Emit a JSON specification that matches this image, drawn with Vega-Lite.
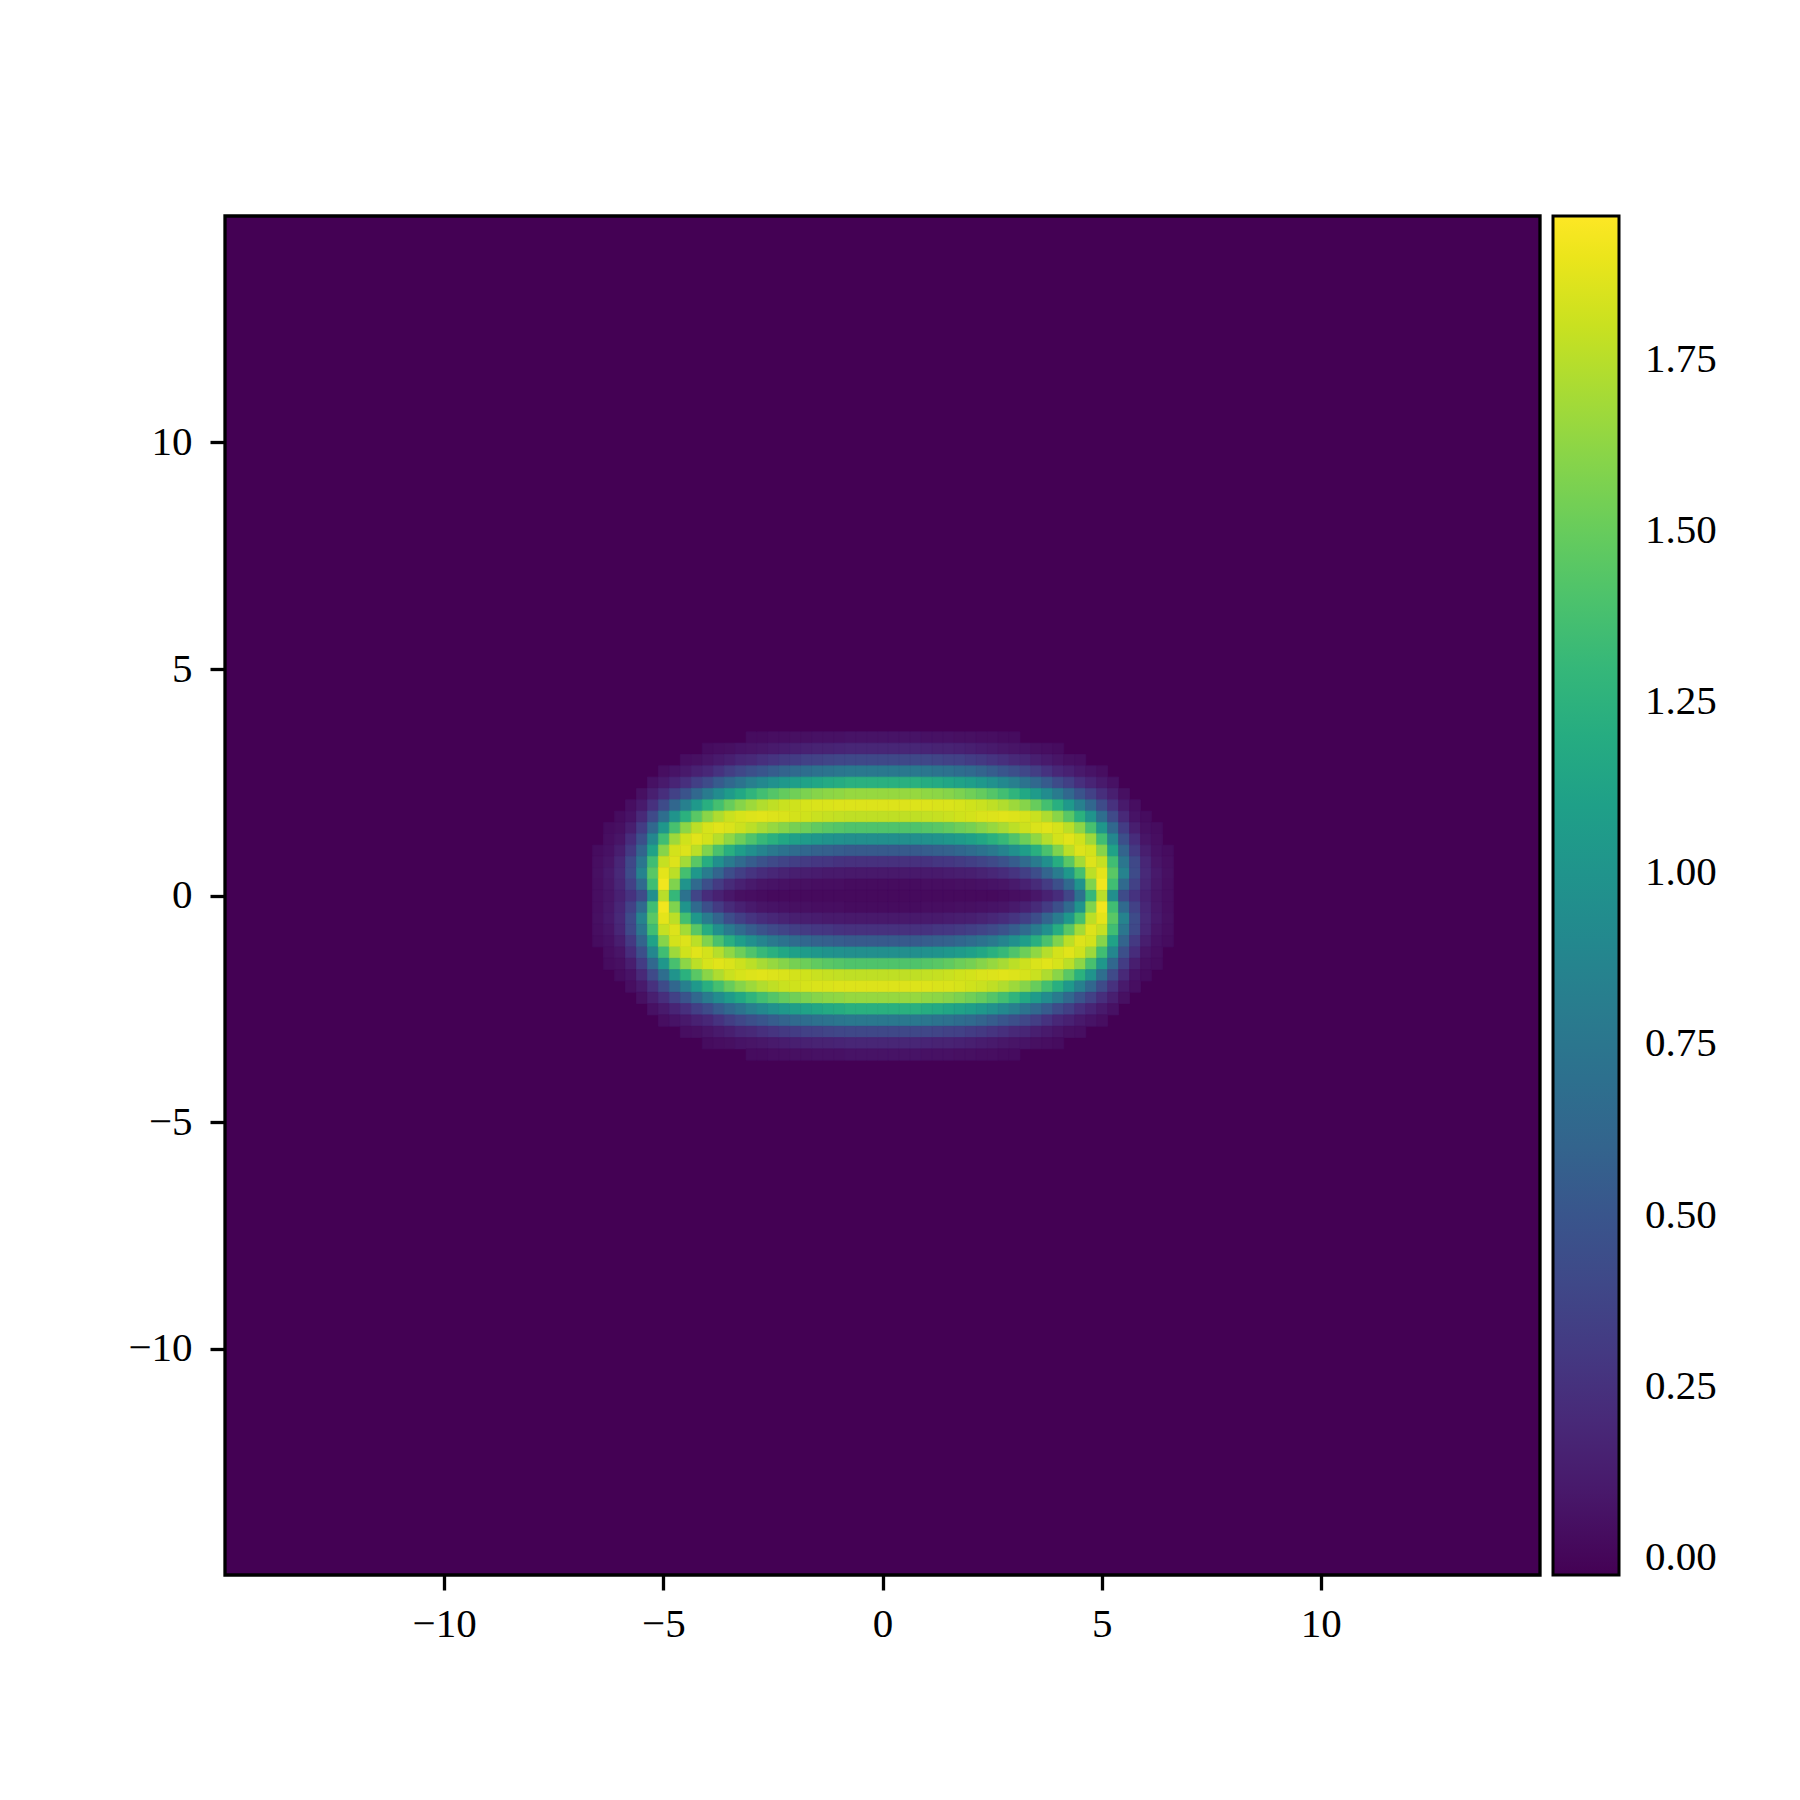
{"$schema":"https://vega.github.io/schema/vega-lite/v6.json","width":1315,"height":1359,"autosize":"none","padding":{"left":225,"top":216,"right":260,"bottom":225},"background":"white",
"config":{"view":{"fill":"#440154","stroke":"black","strokeWidth":3.3},"axis":{"domain":false,"grid":false,"ticks":true,"tickColor":"black","tickWidth":3.3,"tickSize":15,"labelFont":"Liberation Serif","labelFontSize":41,"labelColor":"black"}},
"data":{"values":[
{"x":-6.5,"y":1,"v":0.03},{"x":-6.5,"y":0.75,"v":0.04},{"x":-6.5,"y":0.5,"v":0.05},{"x":-6.5,"y":0.25,"v":0.04},{"x":-6.5,"y":0,"v":0.04},{"x":-6.5,"y":-0.25,"v":0.04},{"x":-6.5,"y":-0.5,"v":0.05},{"x":-6.5,"y":-0.75,"v":0.04},{"x":-6.5,"y":-1,"v":0.03},
{"x":-6.25,"y":1.5,"v":0.03},{"x":-6.25,"y":1.25,"v":0.04},{"x":-6.25,"y":1,"v":0.06},{"x":-6.25,"y":0.75,"v":0.08},{"x":-6.25,"y":0.5,"v":0.1},{"x":-6.25,"y":0.25,"v":0.09},{"x":-6.25,"y":0,"v":0.08},{"x":-6.25,"y":-0.25,"v":0.09},{"x":-6.25,"y":-0.5,"v":0.1},{"x":-6.25,"y":-0.75,"v":0.08},{"x":-6.25,"y":-1,"v":0.06},{"x":-6.25,"y":-1.25,"v":0.04},{"x":-6.25,"y":-1.5,"v":0.03},
{"x":-6,"y":1.75,"v":0.03},{"x":-6,"y":1.5,"v":0.05},{"x":-6,"y":1.25,"v":0.08},{"x":-6,"y":1,"v":0.13},{"x":-6,"y":0.75,"v":0.18},{"x":-6,"y":0.5,"v":0.2},{"x":-6,"y":0.25,"v":0.18},{"x":-6,"y":0,"v":0.15},{"x":-6,"y":-0.25,"v":0.18},{"x":-6,"y":-0.5,"v":0.2},{"x":-6,"y":-0.75,"v":0.18},{"x":-6,"y":-1,"v":0.13},{"x":-6,"y":-1.25,"v":0.08},{"x":-6,"y":-1.5,"v":0.05},{"x":-6,"y":-1.75,"v":0.03},
{"x":-5.75,"y":2,"v":0.04},{"x":-5.75,"y":1.75,"v":0.07},{"x":-5.75,"y":1.5,"v":0.13},{"x":-5.75,"y":1.25,"v":0.22},{"x":-5.75,"y":1,"v":0.3},{"x":-5.75,"y":0.75,"v":0.4},{"x":-5.75,"y":0.5,"v":0.42},{"x":-5.75,"y":0.25,"v":0.35},{"x":-5.75,"y":0,"v":0.26},{"x":-5.75,"y":-0.25,"v":0.35},{"x":-5.75,"y":-0.5,"v":0.42},{"x":-5.75,"y":-0.75,"v":0.4},{"x":-5.75,"y":-1,"v":0.3},{"x":-5.75,"y":-1.25,"v":0.22},{"x":-5.75,"y":-1.5,"v":0.13},{"x":-5.75,"y":-1.75,"v":0.07},{"x":-5.75,"y":-2,"v":0.04},
{"x":-5.5,"y":2.25,"v":0.05},{"x":-5.5,"y":2,"v":0.11},{"x":-5.5,"y":1.75,"v":0.2},{"x":-5.5,"y":1.5,"v":0.32},{"x":-5.5,"y":1.25,"v":0.45},{"x":-5.5,"y":1,"v":0.6},{"x":-5.5,"y":0.75,"v":0.75},{"x":-5.5,"y":0.5,"v":0.85},{"x":-5.5,"y":0.25,"v":0.65},{"x":-5.5,"y":0,"v":0.42},{"x":-5.5,"y":-0.25,"v":0.65},{"x":-5.5,"y":-0.5,"v":0.85},{"x":-5.5,"y":-0.75,"v":0.75},{"x":-5.5,"y":-1,"v":0.6},{"x":-5.5,"y":-1.25,"v":0.45},{"x":-5.5,"y":-1.5,"v":0.32},{"x":-5.5,"y":-1.75,"v":0.2},{"x":-5.5,"y":-2,"v":0.11},{"x":-5.5,"y":-2.25,"v":0.05},
{"x":-5.25,"y":2.5,"v":0.06},{"x":-5.25,"y":2.25,"v":0.14},{"x":-5.25,"y":2,"v":0.25},{"x":-5.25,"y":1.75,"v":0.41},{"x":-5.25,"y":1.5,"v":0.64},{"x":-5.25,"y":1.25,"v":0.89},{"x":-5.25,"y":1,"v":1.12},{"x":-5.25,"y":0.75,"v":1.35},{"x":-5.25,"y":0.5,"v":1.45},{"x":-5.25,"y":0.25,"v":1.35},{"x":-5.25,"y":0,"v":0.95},{"x":-5.25,"y":-0.25,"v":1.35},{"x":-5.25,"y":-0.5,"v":1.45},{"x":-5.25,"y":-0.75,"v":1.35},{"x":-5.25,"y":-1,"v":1.12},{"x":-5.25,"y":-1.25,"v":0.89},{"x":-5.25,"y":-1.5,"v":0.64},{"x":-5.25,"y":-1.75,"v":0.41},{"x":-5.25,"y":-2,"v":0.25},{"x":-5.25,"y":-2.25,"v":0.14},{"x":-5.25,"y":-2.5,"v":0.06},
{"x":-5,"y":2.75,"v":0.04},{"x":-5,"y":2.5,"v":0.11},{"x":-5,"y":2.25,"v":0.23},{"x":-5,"y":2,"v":0.42},{"x":-5,"y":1.75,"v":0.69},{"x":-5,"y":1.5,"v":1.02},{"x":-5,"y":1.25,"v":1.35},{"x":-5,"y":1,"v":1.6},{"x":-5,"y":0.75,"v":1.79},{"x":-5,"y":0.5,"v":1.88},{"x":-5,"y":0.25,"v":1.92},{"x":-5,"y":0,"v":1.75},{"x":-5,"y":-0.25,"v":1.92},{"x":-5,"y":-0.5,"v":1.88},{"x":-5,"y":-0.75,"v":1.79},{"x":-5,"y":-1,"v":1.6},{"x":-5,"y":-1.25,"v":1.35},{"x":-5,"y":-1.5,"v":1.02},{"x":-5,"y":-1.75,"v":0.69},{"x":-5,"y":-2,"v":0.42},{"x":-5,"y":-2.25,"v":0.23},{"x":-5,"y":-2.5,"v":0.11},{"x":-5,"y":-2.75,"v":0.04},
{"x":-4.75,"y":2.75,"v":0.07},{"x":-4.75,"y":2.5,"v":0.17},{"x":-4.75,"y":2.25,"v":0.35},{"x":-4.75,"y":2,"v":0.63},{"x":-4.75,"y":1.75,"v":1},{"x":-4.75,"y":1.5,"v":1.38},{"x":-4.75,"y":1.25,"v":1.67},{"x":-4.75,"y":1,"v":1.83},{"x":-4.75,"y":0.75,"v":1.86},{"x":-4.75,"y":0.5,"v":1.76},{"x":-4.75,"y":0.25,"v":1.58},{"x":-4.75,"y":0,"v":1.3},{"x":-4.75,"y":-0.25,"v":1.58},{"x":-4.75,"y":-0.5,"v":1.76},{"x":-4.75,"y":-0.75,"v":1.86},{"x":-4.75,"y":-1,"v":1.83},{"x":-4.75,"y":-1.25,"v":1.67},{"x":-4.75,"y":-1.5,"v":1.38},{"x":-4.75,"y":-1.75,"v":1},{"x":-4.75,"y":-2,"v":0.63},{"x":-4.75,"y":-2.25,"v":0.35},{"x":-4.75,"y":-2.5,"v":0.17},{"x":-4.75,"y":-2.75,"v":0.07},
{"x":-4.5,"y":3,"v":0.04},{"x":-4.5,"y":2.75,"v":0.1},{"x":-4.5,"y":2.5,"v":0.24},{"x":-4.5,"y":2.25,"v":0.48},{"x":-4.5,"y":2,"v":0.83},{"x":-4.5,"y":1.75,"v":1.24},{"x":-4.5,"y":1.5,"v":1.62},{"x":-4.5,"y":1.25,"v":1.82},{"x":-4.5,"y":1,"v":1.86},{"x":-4.5,"y":0.75,"v":1.69},{"x":-4.5,"y":0.5,"v":1.37},{"x":-4.5,"y":0.25,"v":1},{"x":-4.5,"y":0,"v":0.72},{"x":-4.5,"y":-0.25,"v":1},{"x":-4.5,"y":-0.5,"v":1.37},{"x":-4.5,"y":-0.75,"v":1.69},{"x":-4.5,"y":-1,"v":1.86},{"x":-4.5,"y":-1.25,"v":1.82},{"x":-4.5,"y":-1.5,"v":1.62},{"x":-4.5,"y":-1.75,"v":1.24},{"x":-4.5,"y":-2,"v":0.83},{"x":-4.5,"y":-2.25,"v":0.48},{"x":-4.5,"y":-2.5,"v":0.24},{"x":-4.5,"y":-2.75,"v":0.1},{"x":-4.5,"y":-3,"v":0.04},
{"x":-4.25,"y":3,"v":0.05},{"x":-4.25,"y":2.75,"v":0.15},{"x":-4.25,"y":2.5,"v":0.34},{"x":-4.25,"y":2.25,"v":0.64},{"x":-4.25,"y":2,"v":1.04},{"x":-4.25,"y":1.75,"v":1.45},{"x":-4.25,"y":1.5,"v":1.76},{"x":-4.25,"y":1.25,"v":1.87},{"x":-4.25,"y":1,"v":1.76},{"x":-4.25,"y":0.75,"v":1.45},{"x":-4.25,"y":0.5,"v":1.03},{"x":-4.25,"y":0.25,"v":0.65},{"x":-4.25,"y":0,"v":0.38},{"x":-4.25,"y":-0.25,"v":0.65},{"x":-4.25,"y":-0.5,"v":1.03},{"x":-4.25,"y":-0.75,"v":1.45},{"x":-4.25,"y":-1,"v":1.76},{"x":-4.25,"y":-1.25,"v":1.87},{"x":-4.25,"y":-1.5,"v":1.76},{"x":-4.25,"y":-1.75,"v":1.45},{"x":-4.25,"y":-2,"v":1.04},{"x":-4.25,"y":-2.25,"v":0.64},{"x":-4.25,"y":-2.5,"v":0.34},{"x":-4.25,"y":-2.75,"v":0.15},{"x":-4.25,"y":-3,"v":0.05},
{"x":-4,"y":3.25,"v":0.03},{"x":-4,"y":3,"v":0.08},{"x":-4,"y":2.75,"v":0.19},{"x":-4,"y":2.5,"v":0.42},{"x":-4,"y":2.25,"v":0.79},{"x":-4,"y":2,"v":1.22},{"x":-4,"y":1.75,"v":1.61},{"x":-4,"y":1.5,"v":1.84},{"x":-4,"y":1.25,"v":1.83},{"x":-4,"y":1,"v":1.58},{"x":-4,"y":0.75,"v":1.21},{"x":-4,"y":0.5,"v":0.8},{"x":-4,"y":0.25,"v":0.45},{"x":-4,"y":0,"v":0.22},{"x":-4,"y":-0.25,"v":0.45},{"x":-4,"y":-0.5,"v":0.8},{"x":-4,"y":-0.75,"v":1.21},{"x":-4,"y":-1,"v":1.58},{"x":-4,"y":-1.25,"v":1.83},{"x":-4,"y":-1.5,"v":1.84},{"x":-4,"y":-1.75,"v":1.61},{"x":-4,"y":-2,"v":1.22},{"x":-4,"y":-2.25,"v":0.79},{"x":-4,"y":-2.5,"v":0.42},{"x":-4,"y":-2.75,"v":0.19},{"x":-4,"y":-3,"v":0.08},{"x":-4,"y":-3.25,"v":0.03},
{"x":-3.75,"y":3.25,"v":0.04},{"x":-3.75,"y":3,"v":0.11},{"x":-3.75,"y":2.75,"v":0.26},{"x":-3.75,"y":2.5,"v":0.54},{"x":-3.75,"y":2.25,"v":0.93},{"x":-3.75,"y":2,"v":1.37},{"x":-3.75,"y":1.75,"v":1.72},{"x":-3.75,"y":1.5,"v":1.87},{"x":-3.75,"y":1.25,"v":1.74},{"x":-3.75,"y":1,"v":1.39},{"x":-3.75,"y":0.75,"v":0.96},{"x":-3.75,"y":0.5,"v":0.61},{"x":-3.75,"y":0.25,"v":0.31},{"x":-3.75,"y":0,"v":0.15},{"x":-3.75,"y":-0.25,"v":0.31},{"x":-3.75,"y":-0.5,"v":0.61},{"x":-3.75,"y":-0.75,"v":0.96},{"x":-3.75,"y":-1,"v":1.39},{"x":-3.75,"y":-1.25,"v":1.74},{"x":-3.75,"y":-1.5,"v":1.87},{"x":-3.75,"y":-1.75,"v":1.72},{"x":-3.75,"y":-2,"v":1.37},{"x":-3.75,"y":-2.25,"v":0.93},{"x":-3.75,"y":-2.5,"v":0.54},{"x":-3.75,"y":-2.75,"v":0.26},{"x":-3.75,"y":-3,"v":0.11},{"x":-3.75,"y":-3.25,"v":0.04},
{"x":-3.5,"y":3.25,"v":0.05},{"x":-3.5,"y":3,"v":0.14},{"x":-3.5,"y":2.75,"v":0.33},{"x":-3.5,"y":2.5,"v":0.64},{"x":-3.5,"y":2.25,"v":1.06},{"x":-3.5,"y":2,"v":1.5},{"x":-3.5,"y":1.75,"v":1.8},{"x":-3.5,"y":1.5,"v":1.85},{"x":-3.5,"y":1.25,"v":1.63},{"x":-3.5,"y":1,"v":1.22},{"x":-3.5,"y":0.75,"v":0.79},{"x":-3.5,"y":0.5,"v":0.43},{"x":-3.5,"y":0.25,"v":0.21},{"x":-3.5,"y":0,"v":0.09},{"x":-3.5,"y":-0.25,"v":0.21},{"x":-3.5,"y":-0.5,"v":0.43},{"x":-3.5,"y":-0.75,"v":0.79},{"x":-3.5,"y":-1,"v":1.22},{"x":-3.5,"y":-1.25,"v":1.63},{"x":-3.5,"y":-1.5,"v":1.85},{"x":-3.5,"y":-1.75,"v":1.8},{"x":-3.5,"y":-2,"v":1.5},{"x":-3.5,"y":-2.25,"v":1.06},{"x":-3.5,"y":-2.5,"v":0.64},{"x":-3.5,"y":-2.75,"v":0.33},{"x":-3.5,"y":-3,"v":0.14},{"x":-3.5,"y":-3.25,"v":0.05},
{"x":-3.25,"y":3.25,"v":0.07},{"x":-3.25,"y":3,"v":0.18},{"x":-3.25,"y":2.75,"v":0.39},{"x":-3.25,"y":2.5,"v":0.73},{"x":-3.25,"y":2.25,"v":1.17},{"x":-3.25,"y":2,"v":1.6},{"x":-3.25,"y":1.75,"v":1.84},{"x":-3.25,"y":1.5,"v":1.81},{"x":-3.25,"y":1.25,"v":1.52},{"x":-3.25,"y":1,"v":1.08},{"x":-3.25,"y":0.75,"v":0.66},{"x":-3.25,"y":0.5,"v":0.34},{"x":-3.25,"y":0.25,"v":0.15},{"x":-3.25,"y":0,"v":0.05},{"x":-3.25,"y":-0.25,"v":0.15},{"x":-3.25,"y":-0.5,"v":0.34},{"x":-3.25,"y":-0.75,"v":0.66},{"x":-3.25,"y":-1,"v":1.08},{"x":-3.25,"y":-1.25,"v":1.52},{"x":-3.25,"y":-1.5,"v":1.81},{"x":-3.25,"y":-1.75,"v":1.84},{"x":-3.25,"y":-2,"v":1.6},{"x":-3.25,"y":-2.25,"v":1.17},{"x":-3.25,"y":-2.5,"v":0.73},{"x":-3.25,"y":-2.75,"v":0.39},{"x":-3.25,"y":-3,"v":0.18},{"x":-3.25,"y":-3.25,"v":0.07},
{"x":-3,"y":3.5,"v":0.03},{"x":-3,"y":3.25,"v":0.08},{"x":-3,"y":3,"v":0.2},{"x":-3,"y":2.75,"v":0.45},{"x":-3,"y":2.5,"v":0.82},{"x":-3,"y":2.25,"v":1.27},{"x":-3,"y":2,"v":1.67},{"x":-3,"y":1.75,"v":1.86},{"x":-3,"y":1.5,"v":1.76},{"x":-3,"y":1.25,"v":1.41},{"x":-3,"y":1,"v":0.96},{"x":-3,"y":0.75,"v":0.55},{"x":-3,"y":0.5,"v":0.27},{"x":-3,"y":0.25,"v":0.11},{"x":-3,"y":0,"v":0.04},{"x":-3,"y":-0.25,"v":0.11},{"x":-3,"y":-0.5,"v":0.27},{"x":-3,"y":-0.75,"v":0.55},{"x":-3,"y":-1,"v":0.96},{"x":-3,"y":-1.25,"v":1.41},{"x":-3,"y":-1.5,"v":1.76},{"x":-3,"y":-1.75,"v":1.86},{"x":-3,"y":-2,"v":1.67},{"x":-3,"y":-2.25,"v":1.27},{"x":-3,"y":-2.5,"v":0.82},{"x":-3,"y":-2.75,"v":0.45},{"x":-3,"y":-3,"v":0.2},{"x":-3,"y":-3.25,"v":0.08},{"x":-3,"y":-3.5,"v":0.03},
{"x":-2.75,"y":3.5,"v":0.03},{"x":-2.75,"y":3.25,"v":0.09},{"x":-2.75,"y":3,"v":0.24},{"x":-2.75,"y":2.75,"v":0.5},{"x":-2.75,"y":2.5,"v":0.9},{"x":-2.75,"y":2.25,"v":1.36},{"x":-2.75,"y":2,"v":1.73},{"x":-2.75,"y":1.75,"v":1.87},{"x":-2.75,"y":1.5,"v":1.7},{"x":-2.75,"y":1.25,"v":1.31},{"x":-2.75,"y":1,"v":0.86},{"x":-2.75,"y":0.75,"v":0.47},{"x":-2.75,"y":0.5,"v":0.22},{"x":-2.75,"y":0.25,"v":0.08},{"x":-2.75,"y":0,"v":0.03},{"x":-2.75,"y":-0.25,"v":0.08},{"x":-2.75,"y":-0.5,"v":0.22},{"x":-2.75,"y":-0.75,"v":0.47},{"x":-2.75,"y":-1,"v":0.86},{"x":-2.75,"y":-1.25,"v":1.31},{"x":-2.75,"y":-1.5,"v":1.7},{"x":-2.75,"y":-1.75,"v":1.87},{"x":-2.75,"y":-2,"v":1.73},{"x":-2.75,"y":-2.25,"v":1.36},{"x":-2.75,"y":-2.5,"v":0.9},{"x":-2.75,"y":-2.75,"v":0.5},{"x":-2.75,"y":-3,"v":0.24},{"x":-2.75,"y":-3.25,"v":0.09},{"x":-2.75,"y":-3.5,"v":0.03},
{"x":-2.5,"y":3.5,"v":0.04},{"x":-2.5,"y":3.25,"v":0.11},{"x":-2.5,"y":3,"v":0.27},{"x":-2.5,"y":2.75,"v":0.55},{"x":-2.5,"y":2.5,"v":0.97},{"x":-2.5,"y":2.25,"v":1.43},{"x":-2.5,"y":2,"v":1.77},{"x":-2.5,"y":1.75,"v":1.86},{"x":-2.5,"y":1.5,"v":1.65},{"x":-2.5,"y":1.25,"v":1.23},{"x":-2.5,"y":1,"v":0.78},{"x":-2.5,"y":0.75,"v":0.41},{"x":-2.5,"y":0.5,"v":0.19},{"x":-2.5,"y":0.25,"v":0.07},{"x":-2.5,"y":0,"v":0.02},{"x":-2.5,"y":-0.25,"v":0.07},{"x":-2.5,"y":-0.5,"v":0.19},{"x":-2.5,"y":-0.75,"v":0.41},{"x":-2.5,"y":-1,"v":0.78},{"x":-2.5,"y":-1.25,"v":1.23},{"x":-2.5,"y":-1.5,"v":1.65},{"x":-2.5,"y":-1.75,"v":1.86},{"x":-2.5,"y":-2,"v":1.77},{"x":-2.5,"y":-2.25,"v":1.43},{"x":-2.5,"y":-2.5,"v":0.97},{"x":-2.5,"y":-2.75,"v":0.55},{"x":-2.5,"y":-3,"v":0.27},{"x":-2.5,"y":-3.25,"v":0.11},{"x":-2.5,"y":-3.5,"v":0.04},
{"x":-2.25,"y":3.5,"v":0.04},{"x":-2.25,"y":3.25,"v":0.12},{"x":-2.25,"y":3,"v":0.3},{"x":-2.25,"y":2.75,"v":0.6},{"x":-2.25,"y":2.5,"v":1.03},{"x":-2.25,"y":2.25,"v":1.49},{"x":-2.25,"y":2,"v":1.8},{"x":-2.25,"y":1.75,"v":1.85},{"x":-2.25,"y":1.5,"v":1.6},{"x":-2.25,"y":1.25,"v":1.16},{"x":-2.25,"y":1,"v":0.72},{"x":-2.25,"y":0.75,"v":0.37},{"x":-2.25,"y":0.5,"v":0.16},{"x":-2.25,"y":0.25,"v":0.06},{"x":-2.25,"y":0,"v":0.02},{"x":-2.25,"y":-0.25,"v":0.06},{"x":-2.25,"y":-0.5,"v":0.16},{"x":-2.25,"y":-0.75,"v":0.37},{"x":-2.25,"y":-1,"v":0.72},{"x":-2.25,"y":-1.25,"v":1.16},{"x":-2.25,"y":-1.5,"v":1.6},{"x":-2.25,"y":-1.75,"v":1.85},{"x":-2.25,"y":-2,"v":1.8},{"x":-2.25,"y":-2.25,"v":1.49},{"x":-2.25,"y":-2.5,"v":1.03},{"x":-2.25,"y":-2.75,"v":0.6},{"x":-2.25,"y":-3,"v":0.3},{"x":-2.25,"y":-3.25,"v":0.12},{"x":-2.25,"y":-3.5,"v":0.04},
{"x":-2,"y":3.5,"v":0.05},{"x":-2,"y":3.25,"v":0.14},{"x":-2,"y":3,"v":0.32},{"x":-2,"y":2.75,"v":0.65},{"x":-2,"y":2.5,"v":1.08},{"x":-2,"y":2.25,"v":1.53},{"x":-2,"y":2,"v":1.82},{"x":-2,"y":1.75,"v":1.83},{"x":-2,"y":1.5,"v":1.55},{"x":-2,"y":1.25,"v":1.1},{"x":-2,"y":1,"v":0.67},{"x":-2,"y":0.75,"v":0.34},{"x":-2,"y":0.5,"v":0.14},{"x":-2,"y":0.25,"v":0.05},{"x":-2,"y":0,"v":0.02},{"x":-2,"y":-0.25,"v":0.05},{"x":-2,"y":-0.5,"v":0.14},{"x":-2,"y":-0.75,"v":0.34},{"x":-2,"y":-1,"v":0.67},{"x":-2,"y":-1.25,"v":1.1},{"x":-2,"y":-1.5,"v":1.55},{"x":-2,"y":-1.75,"v":1.83},{"x":-2,"y":-2,"v":1.82},{"x":-2,"y":-2.25,"v":1.53},{"x":-2,"y":-2.5,"v":1.08},{"x":-2,"y":-2.75,"v":0.65},{"x":-2,"y":-3,"v":0.32},{"x":-2,"y":-3.25,"v":0.14},{"x":-2,"y":-3.5,"v":0.05},
{"x":-1.75,"y":3.5,"v":0.05},{"x":-1.75,"y":3.25,"v":0.15},{"x":-1.75,"y":3,"v":0.35},{"x":-1.75,"y":2.75,"v":0.68},{"x":-1.75,"y":2.5,"v":1.12},{"x":-1.75,"y":2.25,"v":1.57},{"x":-1.75,"y":2,"v":1.84},{"x":-1.75,"y":1.75,"v":1.82},{"x":-1.75,"y":1.5,"v":1.52},{"x":-1.75,"y":1.25,"v":1.06},{"x":-1.75,"y":1,"v":0.63},{"x":-1.75,"y":0.75,"v":0.31},{"x":-1.75,"y":0.5,"v":0.13},{"x":-1.75,"y":0.25,"v":0.05},{"x":-1.75,"y":0,"v":0.02},{"x":-1.75,"y":-0.25,"v":0.05},{"x":-1.75,"y":-0.5,"v":0.13},{"x":-1.75,"y":-0.75,"v":0.31},{"x":-1.75,"y":-1,"v":0.63},{"x":-1.75,"y":-1.25,"v":1.06},{"x":-1.75,"y":-1.5,"v":1.52},{"x":-1.75,"y":-1.75,"v":1.82},{"x":-1.75,"y":-2,"v":1.84},{"x":-1.75,"y":-2.25,"v":1.57},{"x":-1.75,"y":-2.5,"v":1.12},{"x":-1.75,"y":-2.75,"v":0.68},{"x":-1.75,"y":-3,"v":0.35},{"x":-1.75,"y":-3.25,"v":0.15},{"x":-1.75,"y":-3.5,"v":0.05},
{"x":-1.5,"y":3.5,"v":0.06},{"x":-1.5,"y":3.25,"v":0.16},{"x":-1.5,"y":3,"v":0.36},{"x":-1.5,"y":2.75,"v":0.71},{"x":-1.5,"y":2.5,"v":1.15},{"x":-1.5,"y":2.25,"v":1.6},{"x":-1.5,"y":2,"v":1.85},{"x":-1.5,"y":1.75,"v":1.8},{"x":-1.5,"y":1.5,"v":1.48},{"x":-1.5,"y":1.25,"v":1.02},{"x":-1.5,"y":1,"v":0.59},{"x":-1.5,"y":0.75,"v":0.29},{"x":-1.5,"y":0.5,"v":0.12},{"x":-1.5,"y":0.25,"v":0.04},{"x":-1.5,"y":0,"v":0.02},{"x":-1.5,"y":-0.25,"v":0.04},{"x":-1.5,"y":-0.5,"v":0.12},{"x":-1.5,"y":-0.75,"v":0.29},{"x":-1.5,"y":-1,"v":0.59},{"x":-1.5,"y":-1.25,"v":1.02},{"x":-1.5,"y":-1.5,"v":1.48},{"x":-1.5,"y":-1.75,"v":1.8},{"x":-1.5,"y":-2,"v":1.85},{"x":-1.5,"y":-2.25,"v":1.6},{"x":-1.5,"y":-2.5,"v":1.15},{"x":-1.5,"y":-2.75,"v":0.71},{"x":-1.5,"y":-3,"v":0.36},{"x":-1.5,"y":-3.25,"v":0.16},{"x":-1.5,"y":-3.5,"v":0.06},
{"x":-1.25,"y":3.5,"v":0.06},{"x":-1.25,"y":3.25,"v":0.16},{"x":-1.25,"y":3,"v":0.38},{"x":-1.25,"y":2.75,"v":0.73},{"x":-1.25,"y":2.5,"v":1.18},{"x":-1.25,"y":2.25,"v":1.62},{"x":-1.25,"y":2,"v":1.85},{"x":-1.25,"y":1.75,"v":1.79},{"x":-1.25,"y":1.5,"v":1.45},{"x":-1.25,"y":1.25,"v":0.99},{"x":-1.25,"y":1,"v":0.57},{"x":-1.25,"y":0.75,"v":0.28},{"x":-1.25,"y":0.5,"v":0.11},{"x":-1.25,"y":0.25,"v":0.04},{"x":-1.25,"y":0,"v":0.02},{"x":-1.25,"y":-0.25,"v":0.04},{"x":-1.25,"y":-0.5,"v":0.11},{"x":-1.25,"y":-0.75,"v":0.28},{"x":-1.25,"y":-1,"v":0.57},{"x":-1.25,"y":-1.25,"v":0.99},{"x":-1.25,"y":-1.5,"v":1.45},{"x":-1.25,"y":-1.75,"v":1.79},{"x":-1.25,"y":-2,"v":1.85},{"x":-1.25,"y":-2.25,"v":1.62},{"x":-1.25,"y":-2.5,"v":1.18},{"x":-1.25,"y":-2.75,"v":0.73},{"x":-1.25,"y":-3,"v":0.38},{"x":-1.25,"y":-3.25,"v":0.16},{"x":-1.25,"y":-3.5,"v":0.06},
{"x":-1,"y":3.5,"v":0.06},{"x":-1,"y":3.25,"v":0.17},{"x":-1,"y":3,"v":0.39},{"x":-1,"y":2.75,"v":0.75},{"x":-1,"y":2.5,"v":1.2},{"x":-1,"y":2.25,"v":1.63},{"x":-1,"y":2,"v":1.86},{"x":-1,"y":1.75,"v":1.78},{"x":-1,"y":1.5,"v":1.43},{"x":-1,"y":1.25,"v":0.97},{"x":-1,"y":1,"v":0.55},{"x":-1,"y":0.75,"v":0.26},{"x":-1,"y":0.5,"v":0.11},{"x":-1,"y":0.25,"v":0.04},{"x":-1,"y":0,"v":0.02},{"x":-1,"y":-0.25,"v":0.04},{"x":-1,"y":-0.5,"v":0.11},{"x":-1,"y":-0.75,"v":0.26},{"x":-1,"y":-1,"v":0.55},{"x":-1,"y":-1.25,"v":0.97},{"x":-1,"y":-1.5,"v":1.43},{"x":-1,"y":-1.75,"v":1.78},{"x":-1,"y":-2,"v":1.86},{"x":-1,"y":-2.25,"v":1.63},{"x":-1,"y":-2.5,"v":1.2},{"x":-1,"y":-2.75,"v":0.75},{"x":-1,"y":-3,"v":0.39},{"x":-1,"y":-3.25,"v":0.17},{"x":-1,"y":-3.5,"v":0.06},
{"x":-0.75,"y":3.5,"v":0.07},{"x":-0.75,"y":3.25,"v":0.18},{"x":-0.75,"y":3,"v":0.4},{"x":-0.75,"y":2.75,"v":0.77},{"x":-0.75,"y":2.5,"v":1.23},{"x":-0.75,"y":2.25,"v":1.65},{"x":-0.75,"y":2,"v":1.86},{"x":-0.75,"y":1.75,"v":1.77},{"x":-0.75,"y":1.5,"v":1.41},{"x":-0.75,"y":1.25,"v":0.95},{"x":-0.75,"y":1,"v":0.53},{"x":-0.75,"y":0.75,"v":0.25},{"x":-0.75,"y":0.5,"v":0.1},{"x":-0.75,"y":0.25,"v":0.03},{"x":-0.75,"y":0,"v":0.02},{"x":-0.75,"y":-0.25,"v":0.03},{"x":-0.75,"y":-0.5,"v":0.1},{"x":-0.75,"y":-0.75,"v":0.25},{"x":-0.75,"y":-1,"v":0.53},{"x":-0.75,"y":-1.25,"v":0.95},{"x":-0.75,"y":-1.5,"v":1.41},{"x":-0.75,"y":-1.75,"v":1.77},{"x":-0.75,"y":-2,"v":1.86},{"x":-0.75,"y":-2.25,"v":1.65},{"x":-0.75,"y":-2.5,"v":1.23},{"x":-0.75,"y":-2.75,"v":0.77},{"x":-0.75,"y":-3,"v":0.4},{"x":-0.75,"y":-3.25,"v":0.18},{"x":-0.75,"y":-3.5,"v":0.07},
{"x":-0.5,"y":3.5,"v":0.07},{"x":-0.5,"y":3.25,"v":0.18},{"x":-0.5,"y":3,"v":0.4},{"x":-0.5,"y":2.75,"v":0.77},{"x":-0.5,"y":2.5,"v":1.23},{"x":-0.5,"y":2.25,"v":1.65},{"x":-0.5,"y":2,"v":1.86},{"x":-0.5,"y":1.75,"v":1.77},{"x":-0.5,"y":1.5,"v":1.41},{"x":-0.5,"y":1.25,"v":0.95},{"x":-0.5,"y":1,"v":0.53},{"x":-0.5,"y":0.75,"v":0.25},{"x":-0.5,"y":0.5,"v":0.1},{"x":-0.5,"y":0.25,"v":0.03},{"x":-0.5,"y":0,"v":0.02},{"x":-0.5,"y":-0.25,"v":0.03},{"x":-0.5,"y":-0.5,"v":0.1},{"x":-0.5,"y":-0.75,"v":0.25},{"x":-0.5,"y":-1,"v":0.53},{"x":-0.5,"y":-1.25,"v":0.95},{"x":-0.5,"y":-1.5,"v":1.41},{"x":-0.5,"y":-1.75,"v":1.77},{"x":-0.5,"y":-2,"v":1.86},{"x":-0.5,"y":-2.25,"v":1.65},{"x":-0.5,"y":-2.5,"v":1.23},{"x":-0.5,"y":-2.75,"v":0.77},{"x":-0.5,"y":-3,"v":0.4},{"x":-0.5,"y":-3.25,"v":0.18},{"x":-0.5,"y":-3.5,"v":0.07},
{"x":-0.25,"y":3.5,"v":0.07},{"x":-0.25,"y":3.25,"v":0.18},{"x":-0.25,"y":3,"v":0.4},{"x":-0.25,"y":2.75,"v":0.77},{"x":-0.25,"y":2.5,"v":1.23},{"x":-0.25,"y":2.25,"v":1.65},{"x":-0.25,"y":2,"v":1.86},{"x":-0.25,"y":1.75,"v":1.77},{"x":-0.25,"y":1.5,"v":1.41},{"x":-0.25,"y":1.25,"v":0.95},{"x":-0.25,"y":1,"v":0.53},{"x":-0.25,"y":0.75,"v":0.25},{"x":-0.25,"y":0.5,"v":0.1},{"x":-0.25,"y":0.25,"v":0.03},{"x":-0.25,"y":0,"v":0.02},{"x":-0.25,"y":-0.25,"v":0.03},{"x":-0.25,"y":-0.5,"v":0.1},{"x":-0.25,"y":-0.75,"v":0.25},{"x":-0.25,"y":-1,"v":0.53},{"x":-0.25,"y":-1.25,"v":0.95},{"x":-0.25,"y":-1.5,"v":1.41},{"x":-0.25,"y":-1.75,"v":1.77},{"x":-0.25,"y":-2,"v":1.86},{"x":-0.25,"y":-2.25,"v":1.65},{"x":-0.25,"y":-2.5,"v":1.23},{"x":-0.25,"y":-2.75,"v":0.77},{"x":-0.25,"y":-3,"v":0.4},{"x":-0.25,"y":-3.25,"v":0.18},{"x":-0.25,"y":-3.5,"v":0.07},
{"x":0,"y":3.5,"v":0.07},{"x":0,"y":3.25,"v":0.18},{"x":0,"y":3,"v":0.4},{"x":0,"y":2.75,"v":0.77},{"x":0,"y":2.5,"v":1.23},{"x":0,"y":2.25,"v":1.65},{"x":0,"y":2,"v":1.86},{"x":0,"y":1.75,"v":1.77},{"x":0,"y":1.5,"v":1.41},{"x":0,"y":1.25,"v":0.95},{"x":0,"y":1,"v":0.53},{"x":0,"y":0.75,"v":0.25},{"x":0,"y":0.5,"v":0.1},{"x":0,"y":0.25,"v":0.03},{"x":0,"y":0,"v":0.02},{"x":0,"y":-0.25,"v":0.03},{"x":0,"y":-0.5,"v":0.1},{"x":0,"y":-0.75,"v":0.25},{"x":0,"y":-1,"v":0.53},{"x":0,"y":-1.25,"v":0.95},{"x":0,"y":-1.5,"v":1.41},{"x":0,"y":-1.75,"v":1.77},{"x":0,"y":-2,"v":1.86},{"x":0,"y":-2.25,"v":1.65},{"x":0,"y":-2.5,"v":1.23},{"x":0,"y":-2.75,"v":0.77},{"x":0,"y":-3,"v":0.4},{"x":0,"y":-3.25,"v":0.18},{"x":0,"y":-3.5,"v":0.07},
{"x":0.25,"y":3.5,"v":0.07},{"x":0.25,"y":3.25,"v":0.18},{"x":0.25,"y":3,"v":0.4},{"x":0.25,"y":2.75,"v":0.77},{"x":0.25,"y":2.5,"v":1.23},{"x":0.25,"y":2.25,"v":1.65},{"x":0.25,"y":2,"v":1.86},{"x":0.25,"y":1.75,"v":1.77},{"x":0.25,"y":1.5,"v":1.41},{"x":0.25,"y":1.25,"v":0.95},{"x":0.25,"y":1,"v":0.53},{"x":0.25,"y":0.75,"v":0.25},{"x":0.25,"y":0.5,"v":0.1},{"x":0.25,"y":0.25,"v":0.03},{"x":0.25,"y":0,"v":0.02},{"x":0.25,"y":-0.25,"v":0.03},{"x":0.25,"y":-0.5,"v":0.1},{"x":0.25,"y":-0.75,"v":0.25},{"x":0.25,"y":-1,"v":0.53},{"x":0.25,"y":-1.25,"v":0.95},{"x":0.25,"y":-1.5,"v":1.41},{"x":0.25,"y":-1.75,"v":1.77},{"x":0.25,"y":-2,"v":1.86},{"x":0.25,"y":-2.25,"v":1.65},{"x":0.25,"y":-2.5,"v":1.23},{"x":0.25,"y":-2.75,"v":0.77},{"x":0.25,"y":-3,"v":0.4},{"x":0.25,"y":-3.25,"v":0.18},{"x":0.25,"y":-3.5,"v":0.07},
{"x":0.5,"y":3.5,"v":0.07},{"x":0.5,"y":3.25,"v":0.18},{"x":0.5,"y":3,"v":0.4},{"x":0.5,"y":2.75,"v":0.77},{"x":0.5,"y":2.5,"v":1.23},{"x":0.5,"y":2.25,"v":1.65},{"x":0.5,"y":2,"v":1.86},{"x":0.5,"y":1.75,"v":1.77},{"x":0.5,"y":1.5,"v":1.41},{"x":0.5,"y":1.25,"v":0.95},{"x":0.5,"y":1,"v":0.53},{"x":0.5,"y":0.75,"v":0.25},{"x":0.5,"y":0.5,"v":0.1},{"x":0.5,"y":0.25,"v":0.03},{"x":0.5,"y":0,"v":0.02},{"x":0.5,"y":-0.25,"v":0.03},{"x":0.5,"y":-0.5,"v":0.1},{"x":0.5,"y":-0.75,"v":0.25},{"x":0.5,"y":-1,"v":0.53},{"x":0.5,"y":-1.25,"v":0.95},{"x":0.5,"y":-1.5,"v":1.41},{"x":0.5,"y":-1.75,"v":1.77},{"x":0.5,"y":-2,"v":1.86},{"x":0.5,"y":-2.25,"v":1.65},{"x":0.5,"y":-2.5,"v":1.23},{"x":0.5,"y":-2.75,"v":0.77},{"x":0.5,"y":-3,"v":0.4},{"x":0.5,"y":-3.25,"v":0.18},{"x":0.5,"y":-3.5,"v":0.07},
{"x":0.75,"y":3.5,"v":0.07},{"x":0.75,"y":3.25,"v":0.18},{"x":0.75,"y":3,"v":0.4},{"x":0.75,"y":2.75,"v":0.77},{"x":0.75,"y":2.5,"v":1.23},{"x":0.75,"y":2.25,"v":1.65},{"x":0.75,"y":2,"v":1.86},{"x":0.75,"y":1.75,"v":1.77},{"x":0.75,"y":1.5,"v":1.41},{"x":0.75,"y":1.25,"v":0.95},{"x":0.75,"y":1,"v":0.53},{"x":0.75,"y":0.75,"v":0.25},{"x":0.75,"y":0.5,"v":0.1},{"x":0.75,"y":0.25,"v":0.03},{"x":0.75,"y":0,"v":0.02},{"x":0.75,"y":-0.25,"v":0.03},{"x":0.75,"y":-0.5,"v":0.1},{"x":0.75,"y":-0.75,"v":0.25},{"x":0.75,"y":-1,"v":0.53},{"x":0.75,"y":-1.25,"v":0.95},{"x":0.75,"y":-1.5,"v":1.41},{"x":0.75,"y":-1.75,"v":1.77},{"x":0.75,"y":-2,"v":1.86},{"x":0.75,"y":-2.25,"v":1.65},{"x":0.75,"y":-2.5,"v":1.23},{"x":0.75,"y":-2.75,"v":0.77},{"x":0.75,"y":-3,"v":0.4},{"x":0.75,"y":-3.25,"v":0.18},{"x":0.75,"y":-3.5,"v":0.07},
{"x":1,"y":3.5,"v":0.06},{"x":1,"y":3.25,"v":0.17},{"x":1,"y":3,"v":0.39},{"x":1,"y":2.75,"v":0.75},{"x":1,"y":2.5,"v":1.2},{"x":1,"y":2.25,"v":1.63},{"x":1,"y":2,"v":1.86},{"x":1,"y":1.75,"v":1.78},{"x":1,"y":1.5,"v":1.43},{"x":1,"y":1.25,"v":0.97},{"x":1,"y":1,"v":0.55},{"x":1,"y":0.75,"v":0.26},{"x":1,"y":0.5,"v":0.11},{"x":1,"y":0.25,"v":0.04},{"x":1,"y":0,"v":0.02},{"x":1,"y":-0.25,"v":0.04},{"x":1,"y":-0.5,"v":0.11},{"x":1,"y":-0.75,"v":0.26},{"x":1,"y":-1,"v":0.55},{"x":1,"y":-1.25,"v":0.97},{"x":1,"y":-1.5,"v":1.43},{"x":1,"y":-1.75,"v":1.78},{"x":1,"y":-2,"v":1.86},{"x":1,"y":-2.25,"v":1.63},{"x":1,"y":-2.5,"v":1.2},{"x":1,"y":-2.75,"v":0.75},{"x":1,"y":-3,"v":0.39},{"x":1,"y":-3.25,"v":0.17},{"x":1,"y":-3.5,"v":0.06},
{"x":1.25,"y":3.5,"v":0.06},{"x":1.25,"y":3.25,"v":0.16},{"x":1.25,"y":3,"v":0.38},{"x":1.25,"y":2.75,"v":0.73},{"x":1.25,"y":2.5,"v":1.18},{"x":1.25,"y":2.25,"v":1.62},{"x":1.25,"y":2,"v":1.85},{"x":1.25,"y":1.75,"v":1.79},{"x":1.25,"y":1.5,"v":1.45},{"x":1.25,"y":1.25,"v":0.99},{"x":1.25,"y":1,"v":0.57},{"x":1.25,"y":0.75,"v":0.28},{"x":1.25,"y":0.5,"v":0.11},{"x":1.25,"y":0.25,"v":0.04},{"x":1.25,"y":0,"v":0.02},{"x":1.25,"y":-0.25,"v":0.04},{"x":1.25,"y":-0.5,"v":0.11},{"x":1.25,"y":-0.75,"v":0.28},{"x":1.25,"y":-1,"v":0.57},{"x":1.25,"y":-1.25,"v":0.99},{"x":1.25,"y":-1.5,"v":1.45},{"x":1.25,"y":-1.75,"v":1.79},{"x":1.25,"y":-2,"v":1.85},{"x":1.25,"y":-2.25,"v":1.62},{"x":1.25,"y":-2.5,"v":1.18},{"x":1.25,"y":-2.75,"v":0.73},{"x":1.25,"y":-3,"v":0.38},{"x":1.25,"y":-3.25,"v":0.16},{"x":1.25,"y":-3.5,"v":0.06},
{"x":1.5,"y":3.5,"v":0.06},{"x":1.5,"y":3.25,"v":0.16},{"x":1.5,"y":3,"v":0.36},{"x":1.5,"y":2.75,"v":0.71},{"x":1.5,"y":2.5,"v":1.15},{"x":1.5,"y":2.25,"v":1.6},{"x":1.5,"y":2,"v":1.85},{"x":1.5,"y":1.75,"v":1.8},{"x":1.5,"y":1.5,"v":1.48},{"x":1.5,"y":1.25,"v":1.02},{"x":1.5,"y":1,"v":0.59},{"x":1.5,"y":0.75,"v":0.29},{"x":1.5,"y":0.5,"v":0.12},{"x":1.5,"y":0.25,"v":0.04},{"x":1.5,"y":0,"v":0.02},{"x":1.5,"y":-0.25,"v":0.04},{"x":1.5,"y":-0.5,"v":0.12},{"x":1.5,"y":-0.75,"v":0.29},{"x":1.5,"y":-1,"v":0.59},{"x":1.5,"y":-1.25,"v":1.02},{"x":1.5,"y":-1.5,"v":1.48},{"x":1.5,"y":-1.75,"v":1.8},{"x":1.5,"y":-2,"v":1.85},{"x":1.5,"y":-2.25,"v":1.6},{"x":1.5,"y":-2.5,"v":1.15},{"x":1.5,"y":-2.75,"v":0.71},{"x":1.5,"y":-3,"v":0.36},{"x":1.5,"y":-3.25,"v":0.16},{"x":1.5,"y":-3.5,"v":0.06},
{"x":1.75,"y":3.5,"v":0.05},{"x":1.75,"y":3.25,"v":0.15},{"x":1.75,"y":3,"v":0.35},{"x":1.75,"y":2.75,"v":0.68},{"x":1.75,"y":2.5,"v":1.12},{"x":1.75,"y":2.25,"v":1.57},{"x":1.75,"y":2,"v":1.84},{"x":1.75,"y":1.75,"v":1.82},{"x":1.75,"y":1.5,"v":1.52},{"x":1.75,"y":1.25,"v":1.06},{"x":1.75,"y":1,"v":0.63},{"x":1.75,"y":0.75,"v":0.31},{"x":1.75,"y":0.5,"v":0.13},{"x":1.75,"y":0.25,"v":0.05},{"x":1.75,"y":0,"v":0.02},{"x":1.75,"y":-0.25,"v":0.05},{"x":1.75,"y":-0.5,"v":0.13},{"x":1.75,"y":-0.75,"v":0.31},{"x":1.75,"y":-1,"v":0.63},{"x":1.75,"y":-1.25,"v":1.06},{"x":1.75,"y":-1.5,"v":1.52},{"x":1.75,"y":-1.75,"v":1.82},{"x":1.75,"y":-2,"v":1.84},{"x":1.75,"y":-2.25,"v":1.57},{"x":1.75,"y":-2.5,"v":1.12},{"x":1.75,"y":-2.75,"v":0.68},{"x":1.75,"y":-3,"v":0.35},{"x":1.75,"y":-3.25,"v":0.15},{"x":1.75,"y":-3.5,"v":0.05},
{"x":2,"y":3.5,"v":0.05},{"x":2,"y":3.25,"v":0.14},{"x":2,"y":3,"v":0.32},{"x":2,"y":2.75,"v":0.65},{"x":2,"y":2.5,"v":1.08},{"x":2,"y":2.25,"v":1.53},{"x":2,"y":2,"v":1.82},{"x":2,"y":1.75,"v":1.83},{"x":2,"y":1.5,"v":1.55},{"x":2,"y":1.25,"v":1.1},{"x":2,"y":1,"v":0.67},{"x":2,"y":0.75,"v":0.34},{"x":2,"y":0.5,"v":0.14},{"x":2,"y":0.25,"v":0.05},{"x":2,"y":0,"v":0.02},{"x":2,"y":-0.25,"v":0.05},{"x":2,"y":-0.5,"v":0.14},{"x":2,"y":-0.75,"v":0.34},{"x":2,"y":-1,"v":0.67},{"x":2,"y":-1.25,"v":1.1},{"x":2,"y":-1.5,"v":1.55},{"x":2,"y":-1.75,"v":1.83},{"x":2,"y":-2,"v":1.82},{"x":2,"y":-2.25,"v":1.53},{"x":2,"y":-2.5,"v":1.08},{"x":2,"y":-2.75,"v":0.65},{"x":2,"y":-3,"v":0.32},{"x":2,"y":-3.25,"v":0.14},{"x":2,"y":-3.5,"v":0.05},
{"x":2.25,"y":3.5,"v":0.04},{"x":2.25,"y":3.25,"v":0.12},{"x":2.25,"y":3,"v":0.3},{"x":2.25,"y":2.75,"v":0.6},{"x":2.25,"y":2.5,"v":1.03},{"x":2.25,"y":2.25,"v":1.49},{"x":2.25,"y":2,"v":1.8},{"x":2.25,"y":1.75,"v":1.85},{"x":2.25,"y":1.5,"v":1.6},{"x":2.25,"y":1.25,"v":1.16},{"x":2.25,"y":1,"v":0.72},{"x":2.25,"y":0.75,"v":0.37},{"x":2.25,"y":0.5,"v":0.16},{"x":2.25,"y":0.25,"v":0.06},{"x":2.25,"y":0,"v":0.02},{"x":2.25,"y":-0.25,"v":0.06},{"x":2.25,"y":-0.5,"v":0.16},{"x":2.25,"y":-0.75,"v":0.37},{"x":2.25,"y":-1,"v":0.72},{"x":2.25,"y":-1.25,"v":1.16},{"x":2.25,"y":-1.5,"v":1.6},{"x":2.25,"y":-1.75,"v":1.85},{"x":2.25,"y":-2,"v":1.8},{"x":2.25,"y":-2.25,"v":1.49},{"x":2.25,"y":-2.5,"v":1.03},{"x":2.25,"y":-2.75,"v":0.6},{"x":2.25,"y":-3,"v":0.3},{"x":2.25,"y":-3.25,"v":0.12},{"x":2.25,"y":-3.5,"v":0.04},
{"x":2.5,"y":3.5,"v":0.04},{"x":2.5,"y":3.25,"v":0.11},{"x":2.5,"y":3,"v":0.27},{"x":2.5,"y":2.75,"v":0.55},{"x":2.5,"y":2.5,"v":0.97},{"x":2.5,"y":2.25,"v":1.43},{"x":2.5,"y":2,"v":1.77},{"x":2.5,"y":1.75,"v":1.86},{"x":2.5,"y":1.5,"v":1.65},{"x":2.5,"y":1.25,"v":1.23},{"x":2.5,"y":1,"v":0.78},{"x":2.5,"y":0.75,"v":0.41},{"x":2.5,"y":0.5,"v":0.19},{"x":2.5,"y":0.25,"v":0.07},{"x":2.5,"y":0,"v":0.02},{"x":2.5,"y":-0.25,"v":0.07},{"x":2.5,"y":-0.5,"v":0.19},{"x":2.5,"y":-0.75,"v":0.41},{"x":2.5,"y":-1,"v":0.78},{"x":2.5,"y":-1.25,"v":1.23},{"x":2.5,"y":-1.5,"v":1.65},{"x":2.5,"y":-1.75,"v":1.86},{"x":2.5,"y":-2,"v":1.77},{"x":2.5,"y":-2.25,"v":1.43},{"x":2.5,"y":-2.5,"v":0.97},{"x":2.5,"y":-2.75,"v":0.55},{"x":2.5,"y":-3,"v":0.27},{"x":2.5,"y":-3.25,"v":0.11},{"x":2.5,"y":-3.5,"v":0.04},
{"x":2.75,"y":3.5,"v":0.03},{"x":2.75,"y":3.25,"v":0.09},{"x":2.75,"y":3,"v":0.24},{"x":2.75,"y":2.75,"v":0.5},{"x":2.75,"y":2.5,"v":0.9},{"x":2.75,"y":2.25,"v":1.36},{"x":2.75,"y":2,"v":1.73},{"x":2.75,"y":1.75,"v":1.87},{"x":2.75,"y":1.5,"v":1.7},{"x":2.75,"y":1.25,"v":1.31},{"x":2.75,"y":1,"v":0.86},{"x":2.75,"y":0.75,"v":0.47},{"x":2.75,"y":0.5,"v":0.22},{"x":2.75,"y":0.25,"v":0.08},{"x":2.75,"y":0,"v":0.03},{"x":2.75,"y":-0.25,"v":0.08},{"x":2.75,"y":-0.5,"v":0.22},{"x":2.75,"y":-0.75,"v":0.47},{"x":2.75,"y":-1,"v":0.86},{"x":2.75,"y":-1.25,"v":1.31},{"x":2.75,"y":-1.5,"v":1.7},{"x":2.75,"y":-1.75,"v":1.87},{"x":2.75,"y":-2,"v":1.73},{"x":2.75,"y":-2.25,"v":1.36},{"x":2.75,"y":-2.5,"v":0.9},{"x":2.75,"y":-2.75,"v":0.5},{"x":2.75,"y":-3,"v":0.24},{"x":2.75,"y":-3.25,"v":0.09},{"x":2.75,"y":-3.5,"v":0.03},
{"x":3,"y":3.5,"v":0.03},{"x":3,"y":3.25,"v":0.08},{"x":3,"y":3,"v":0.2},{"x":3,"y":2.75,"v":0.45},{"x":3,"y":2.5,"v":0.82},{"x":3,"y":2.25,"v":1.27},{"x":3,"y":2,"v":1.67},{"x":3,"y":1.75,"v":1.86},{"x":3,"y":1.5,"v":1.76},{"x":3,"y":1.25,"v":1.41},{"x":3,"y":1,"v":0.96},{"x":3,"y":0.75,"v":0.55},{"x":3,"y":0.5,"v":0.27},{"x":3,"y":0.25,"v":0.11},{"x":3,"y":0,"v":0.04},{"x":3,"y":-0.25,"v":0.11},{"x":3,"y":-0.5,"v":0.27},{"x":3,"y":-0.75,"v":0.55},{"x":3,"y":-1,"v":0.96},{"x":3,"y":-1.25,"v":1.41},{"x":3,"y":-1.5,"v":1.76},{"x":3,"y":-1.75,"v":1.86},{"x":3,"y":-2,"v":1.67},{"x":3,"y":-2.25,"v":1.27},{"x":3,"y":-2.5,"v":0.82},{"x":3,"y":-2.75,"v":0.45},{"x":3,"y":-3,"v":0.2},{"x":3,"y":-3.25,"v":0.08},{"x":3,"y":-3.5,"v":0.03},
{"x":3.25,"y":3.25,"v":0.07},{"x":3.25,"y":3,"v":0.18},{"x":3.25,"y":2.75,"v":0.39},{"x":3.25,"y":2.5,"v":0.73},{"x":3.25,"y":2.25,"v":1.17},{"x":3.25,"y":2,"v":1.6},{"x":3.25,"y":1.75,"v":1.84},{"x":3.25,"y":1.5,"v":1.81},{"x":3.25,"y":1.25,"v":1.52},{"x":3.25,"y":1,"v":1.08},{"x":3.25,"y":0.75,"v":0.66},{"x":3.25,"y":0.5,"v":0.34},{"x":3.25,"y":0.25,"v":0.15},{"x":3.25,"y":0,"v":0.05},{"x":3.25,"y":-0.25,"v":0.15},{"x":3.25,"y":-0.5,"v":0.34},{"x":3.25,"y":-0.75,"v":0.66},{"x":3.25,"y":-1,"v":1.08},{"x":3.25,"y":-1.25,"v":1.52},{"x":3.25,"y":-1.5,"v":1.81},{"x":3.25,"y":-1.75,"v":1.84},{"x":3.25,"y":-2,"v":1.6},{"x":3.25,"y":-2.25,"v":1.17},{"x":3.25,"y":-2.5,"v":0.73},{"x":3.25,"y":-2.75,"v":0.39},{"x":3.25,"y":-3,"v":0.18},{"x":3.25,"y":-3.25,"v":0.07},
{"x":3.5,"y":3.25,"v":0.05},{"x":3.5,"y":3,"v":0.14},{"x":3.5,"y":2.75,"v":0.33},{"x":3.5,"y":2.5,"v":0.64},{"x":3.5,"y":2.25,"v":1.06},{"x":3.5,"y":2,"v":1.5},{"x":3.5,"y":1.75,"v":1.8},{"x":3.5,"y":1.5,"v":1.85},{"x":3.5,"y":1.25,"v":1.63},{"x":3.5,"y":1,"v":1.22},{"x":3.5,"y":0.75,"v":0.79},{"x":3.5,"y":0.5,"v":0.43},{"x":3.5,"y":0.25,"v":0.21},{"x":3.5,"y":0,"v":0.09},{"x":3.5,"y":-0.25,"v":0.21},{"x":3.5,"y":-0.5,"v":0.43},{"x":3.5,"y":-0.75,"v":0.79},{"x":3.5,"y":-1,"v":1.22},{"x":3.5,"y":-1.25,"v":1.63},{"x":3.5,"y":-1.5,"v":1.85},{"x":3.5,"y":-1.75,"v":1.8},{"x":3.5,"y":-2,"v":1.5},{"x":3.5,"y":-2.25,"v":1.06},{"x":3.5,"y":-2.5,"v":0.64},{"x":3.5,"y":-2.75,"v":0.33},{"x":3.5,"y":-3,"v":0.14},{"x":3.5,"y":-3.25,"v":0.05},
{"x":3.75,"y":3.25,"v":0.04},{"x":3.75,"y":3,"v":0.11},{"x":3.75,"y":2.75,"v":0.26},{"x":3.75,"y":2.5,"v":0.54},{"x":3.75,"y":2.25,"v":0.93},{"x":3.75,"y":2,"v":1.37},{"x":3.75,"y":1.75,"v":1.72},{"x":3.75,"y":1.5,"v":1.87},{"x":3.75,"y":1.25,"v":1.74},{"x":3.75,"y":1,"v":1.39},{"x":3.75,"y":0.75,"v":0.96},{"x":3.75,"y":0.5,"v":0.61},{"x":3.75,"y":0.25,"v":0.31},{"x":3.75,"y":0,"v":0.15},{"x":3.75,"y":-0.25,"v":0.31},{"x":3.75,"y":-0.5,"v":0.61},{"x":3.75,"y":-0.75,"v":0.96},{"x":3.75,"y":-1,"v":1.39},{"x":3.75,"y":-1.25,"v":1.74},{"x":3.75,"y":-1.5,"v":1.87},{"x":3.75,"y":-1.75,"v":1.72},{"x":3.75,"y":-2,"v":1.37},{"x":3.75,"y":-2.25,"v":0.93},{"x":3.75,"y":-2.5,"v":0.54},{"x":3.75,"y":-2.75,"v":0.26},{"x":3.75,"y":-3,"v":0.11},{"x":3.75,"y":-3.25,"v":0.04},
{"x":4,"y":3.25,"v":0.03},{"x":4,"y":3,"v":0.08},{"x":4,"y":2.75,"v":0.19},{"x":4,"y":2.5,"v":0.42},{"x":4,"y":2.25,"v":0.79},{"x":4,"y":2,"v":1.22},{"x":4,"y":1.75,"v":1.61},{"x":4,"y":1.5,"v":1.84},{"x":4,"y":1.25,"v":1.83},{"x":4,"y":1,"v":1.58},{"x":4,"y":0.75,"v":1.21},{"x":4,"y":0.5,"v":0.8},{"x":4,"y":0.25,"v":0.45},{"x":4,"y":0,"v":0.22},{"x":4,"y":-0.25,"v":0.45},{"x":4,"y":-0.5,"v":0.8},{"x":4,"y":-0.75,"v":1.21},{"x":4,"y":-1,"v":1.58},{"x":4,"y":-1.25,"v":1.83},{"x":4,"y":-1.5,"v":1.84},{"x":4,"y":-1.75,"v":1.61},{"x":4,"y":-2,"v":1.22},{"x":4,"y":-2.25,"v":0.79},{"x":4,"y":-2.5,"v":0.42},{"x":4,"y":-2.75,"v":0.19},{"x":4,"y":-3,"v":0.08},{"x":4,"y":-3.25,"v":0.03},
{"x":4.25,"y":3,"v":0.05},{"x":4.25,"y":2.75,"v":0.15},{"x":4.25,"y":2.5,"v":0.34},{"x":4.25,"y":2.25,"v":0.64},{"x":4.25,"y":2,"v":1.04},{"x":4.25,"y":1.75,"v":1.45},{"x":4.25,"y":1.5,"v":1.76},{"x":4.25,"y":1.25,"v":1.87},{"x":4.25,"y":1,"v":1.76},{"x":4.25,"y":0.75,"v":1.45},{"x":4.25,"y":0.5,"v":1.03},{"x":4.25,"y":0.25,"v":0.65},{"x":4.25,"y":0,"v":0.38},{"x":4.25,"y":-0.25,"v":0.65},{"x":4.25,"y":-0.5,"v":1.03},{"x":4.25,"y":-0.75,"v":1.45},{"x":4.25,"y":-1,"v":1.76},{"x":4.25,"y":-1.25,"v":1.87},{"x":4.25,"y":-1.5,"v":1.76},{"x":4.25,"y":-1.75,"v":1.45},{"x":4.25,"y":-2,"v":1.04},{"x":4.25,"y":-2.25,"v":0.64},{"x":4.25,"y":-2.5,"v":0.34},{"x":4.25,"y":-2.75,"v":0.15},{"x":4.25,"y":-3,"v":0.05},
{"x":4.5,"y":3,"v":0.04},{"x":4.5,"y":2.75,"v":0.1},{"x":4.5,"y":2.5,"v":0.24},{"x":4.5,"y":2.25,"v":0.48},{"x":4.5,"y":2,"v":0.83},{"x":4.5,"y":1.75,"v":1.24},{"x":4.5,"y":1.5,"v":1.62},{"x":4.5,"y":1.25,"v":1.82},{"x":4.5,"y":1,"v":1.86},{"x":4.5,"y":0.75,"v":1.69},{"x":4.5,"y":0.5,"v":1.37},{"x":4.5,"y":0.25,"v":1},{"x":4.5,"y":0,"v":0.72},{"x":4.5,"y":-0.25,"v":1},{"x":4.5,"y":-0.5,"v":1.37},{"x":4.5,"y":-0.75,"v":1.69},{"x":4.5,"y":-1,"v":1.86},{"x":4.5,"y":-1.25,"v":1.82},{"x":4.5,"y":-1.5,"v":1.62},{"x":4.5,"y":-1.75,"v":1.24},{"x":4.5,"y":-2,"v":0.83},{"x":4.5,"y":-2.25,"v":0.48},{"x":4.5,"y":-2.5,"v":0.24},{"x":4.5,"y":-2.75,"v":0.1},{"x":4.5,"y":-3,"v":0.04},
{"x":4.75,"y":2.75,"v":0.07},{"x":4.75,"y":2.5,"v":0.17},{"x":4.75,"y":2.25,"v":0.35},{"x":4.75,"y":2,"v":0.63},{"x":4.75,"y":1.75,"v":1},{"x":4.75,"y":1.5,"v":1.38},{"x":4.75,"y":1.25,"v":1.67},{"x":4.75,"y":1,"v":1.83},{"x":4.75,"y":0.75,"v":1.86},{"x":4.75,"y":0.5,"v":1.76},{"x":4.75,"y":0.25,"v":1.58},{"x":4.75,"y":0,"v":1.3},{"x":4.75,"y":-0.25,"v":1.58},{"x":4.75,"y":-0.5,"v":1.76},{"x":4.75,"y":-0.75,"v":1.86},{"x":4.75,"y":-1,"v":1.83},{"x":4.75,"y":-1.25,"v":1.67},{"x":4.75,"y":-1.5,"v":1.38},{"x":4.75,"y":-1.75,"v":1},{"x":4.75,"y":-2,"v":0.63},{"x":4.75,"y":-2.25,"v":0.35},{"x":4.75,"y":-2.5,"v":0.17},{"x":4.75,"y":-2.75,"v":0.07},
{"x":5,"y":2.75,"v":0.04},{"x":5,"y":2.5,"v":0.11},{"x":5,"y":2.25,"v":0.23},{"x":5,"y":2,"v":0.42},{"x":5,"y":1.75,"v":0.69},{"x":5,"y":1.5,"v":1.02},{"x":5,"y":1.25,"v":1.35},{"x":5,"y":1,"v":1.6},{"x":5,"y":0.75,"v":1.79},{"x":5,"y":0.5,"v":1.88},{"x":5,"y":0.25,"v":1.92},{"x":5,"y":0,"v":1.75},{"x":5,"y":-0.25,"v":1.92},{"x":5,"y":-0.5,"v":1.88},{"x":5,"y":-0.75,"v":1.79},{"x":5,"y":-1,"v":1.6},{"x":5,"y":-1.25,"v":1.35},{"x":5,"y":-1.5,"v":1.02},{"x":5,"y":-1.75,"v":0.69},{"x":5,"y":-2,"v":0.42},{"x":5,"y":-2.25,"v":0.23},{"x":5,"y":-2.5,"v":0.11},{"x":5,"y":-2.75,"v":0.04},
{"x":5.25,"y":2.5,"v":0.06},{"x":5.25,"y":2.25,"v":0.14},{"x":5.25,"y":2,"v":0.25},{"x":5.25,"y":1.75,"v":0.41},{"x":5.25,"y":1.5,"v":0.64},{"x":5.25,"y":1.25,"v":0.89},{"x":5.25,"y":1,"v":1.12},{"x":5.25,"y":0.75,"v":1.35},{"x":5.25,"y":0.5,"v":1.45},{"x":5.25,"y":0.25,"v":1.35},{"x":5.25,"y":0,"v":0.95},{"x":5.25,"y":-0.25,"v":1.35},{"x":5.25,"y":-0.5,"v":1.45},{"x":5.25,"y":-0.75,"v":1.35},{"x":5.25,"y":-1,"v":1.12},{"x":5.25,"y":-1.25,"v":0.89},{"x":5.25,"y":-1.5,"v":0.64},{"x":5.25,"y":-1.75,"v":0.41},{"x":5.25,"y":-2,"v":0.25},{"x":5.25,"y":-2.25,"v":0.14},{"x":5.25,"y":-2.5,"v":0.06},
{"x":5.5,"y":2.25,"v":0.05},{"x":5.5,"y":2,"v":0.11},{"x":5.5,"y":1.75,"v":0.2},{"x":5.5,"y":1.5,"v":0.32},{"x":5.5,"y":1.25,"v":0.45},{"x":5.5,"y":1,"v":0.6},{"x":5.5,"y":0.75,"v":0.75},{"x":5.5,"y":0.5,"v":0.85},{"x":5.5,"y":0.25,"v":0.65},{"x":5.5,"y":0,"v":0.42},{"x":5.5,"y":-0.25,"v":0.65},{"x":5.5,"y":-0.5,"v":0.85},{"x":5.5,"y":-0.75,"v":0.75},{"x":5.5,"y":-1,"v":0.6},{"x":5.5,"y":-1.25,"v":0.45},{"x":5.5,"y":-1.5,"v":0.32},{"x":5.5,"y":-1.75,"v":0.2},{"x":5.5,"y":-2,"v":0.11},{"x":5.5,"y":-2.25,"v":0.05},
{"x":5.75,"y":2,"v":0.04},{"x":5.75,"y":1.75,"v":0.07},{"x":5.75,"y":1.5,"v":0.13},{"x":5.75,"y":1.25,"v":0.22},{"x":5.75,"y":1,"v":0.3},{"x":5.75,"y":0.75,"v":0.4},{"x":5.75,"y":0.5,"v":0.42},{"x":5.75,"y":0.25,"v":0.35},{"x":5.75,"y":0,"v":0.26},{"x":5.75,"y":-0.25,"v":0.35},{"x":5.75,"y":-0.5,"v":0.42},{"x":5.75,"y":-0.75,"v":0.4},{"x":5.75,"y":-1,"v":0.3},{"x":5.75,"y":-1.25,"v":0.22},{"x":5.75,"y":-1.5,"v":0.13},{"x":5.75,"y":-1.75,"v":0.07},{"x":5.75,"y":-2,"v":0.04},
{"x":6,"y":1.75,"v":0.03},{"x":6,"y":1.5,"v":0.05},{"x":6,"y":1.25,"v":0.08},{"x":6,"y":1,"v":0.13},{"x":6,"y":0.75,"v":0.18},{"x":6,"y":0.5,"v":0.2},{"x":6,"y":0.25,"v":0.18},{"x":6,"y":0,"v":0.15},{"x":6,"y":-0.25,"v":0.18},{"x":6,"y":-0.5,"v":0.2},{"x":6,"y":-0.75,"v":0.18},{"x":6,"y":-1,"v":0.13},{"x":6,"y":-1.25,"v":0.08},{"x":6,"y":-1.5,"v":0.05},{"x":6,"y":-1.75,"v":0.03},
{"x":6.25,"y":1.5,"v":0.03},{"x":6.25,"y":1.25,"v":0.04},{"x":6.25,"y":1,"v":0.06},{"x":6.25,"y":0.75,"v":0.08},{"x":6.25,"y":0.5,"v":0.1},{"x":6.25,"y":0.25,"v":0.09},{"x":6.25,"y":0,"v":0.08},{"x":6.25,"y":-0.25,"v":0.09},{"x":6.25,"y":-0.5,"v":0.1},{"x":6.25,"y":-0.75,"v":0.08},{"x":6.25,"y":-1,"v":0.06},{"x":6.25,"y":-1.25,"v":0.04},{"x":6.25,"y":-1.5,"v":0.03},
{"x":6.5,"y":1,"v":0.03},{"x":6.5,"y":0.75,"v":0.04},{"x":6.5,"y":0.5,"v":0.05},{"x":6.5,"y":0.25,"v":0.04},{"x":6.5,"y":0,"v":0.04},{"x":6.5,"y":-0.25,"v":0.04},{"x":6.5,"y":-0.5,"v":0.05},{"x":6.5,"y":-0.75,"v":0.04},{"x":6.5,"y":-1,"v":0.03}
]},
"mark":{"type":"rect","binSpacing":0,"strokeWidth":0.7,"stroke":{"expr":"scale('color', datum.v)"}},
"encoding":{
"x":{"field":"x","type":"quantitative","bin":{"step":0.25,"extent":[-15.125,15.125],"nice":false},"scale":{"domain":[-15,15],"nice":false,"zero":false},"axis":{"values":[-10,-5,0,5,10],"format":"d","title":null,"labelPadding":14,"labelFlush":false,"labelOverlap":false}},
"y":{"field":"y","type":"quantitative","bin":{"step":0.25,"extent":[-15.125,15.125],"nice":false},"scale":{"domain":[-15,15],"nice":false,"zero":false},"axis":{"values":[-10,-5,0,5,10],"format":"d","title":null,"labelPadding":18,"labelFlush":false,"labelOverlap":false}},
"color":{"field":"v","type":"quantitative","scale":{"scheme":"viridis","domain":[-0.025,1.96],"nice":false,"zero":false},"legend":{"type":"gradient","direction":"vertical","title":null,"orient":"right","offset":13,"padding":0,"values":[0,0.25,0.5,0.75,1,1.25,1.5,1.75],"format":".2f","gradientLength":1359,"gradientThickness":66,"gradientStrokeColor":"black","gradientStrokeWidth":3,"labelFont":"Liberation Serif","labelFontSize":41,"labelColor":"black","labelOffset":26,"labelOverlap":false}}
}}
